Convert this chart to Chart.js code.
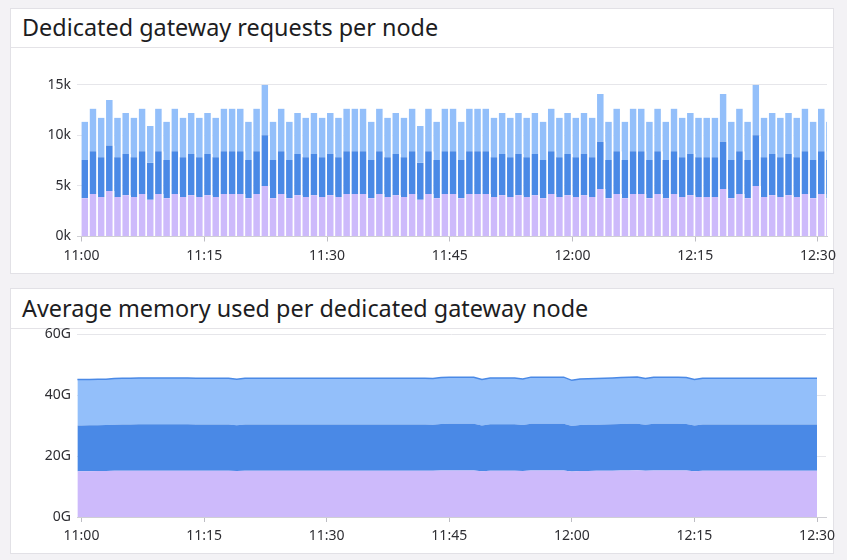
<!DOCTYPE html>
<html>
<head>
<meta charset="utf-8">
<script src="https://cdn.jsdelivr.net/npm/chart.js@4.4.1/dist/chart.umd.min.js"></script>
<style>
  html, body { margin:0; padding:0; }
  body { width:847px; height:560px; overflow:hidden; background:#f3f2f5; position:relative; font-family:'Noto Sans', sans-serif; }
  .panel { position:absolute; left:10px; width:824px; background:#fff; border:1px solid #e2e1e6; box-sizing:border-box; }
  .title { position:absolute; left:11px; font-size:23.4px; line-height:30px; color:#1d1d22; white-space:nowrap; }
  .sep { position:absolute; left:0; right:0; height:1px; background:#e4e3e7; }
  canvas { position:absolute; left:0; }
</style>
</head>
<body>
<div class="panel" style="top:8px;height:266px;">
  <div class="title" style="top:3px;">Dedicated gateway requests per node</div>
  <div class="sep" style="top:38px;"></div>
</div>
<div class="panel" style="top:288px;height:266px;">
  <div class="title" style="top:3.6px;">Average memory used per dedicated gateway node</div>
  <div class="sep" style="top:39px;"></div>
</div>
<canvas id="c1" width="847" height="220" style="top:50px;width:847px;height:220px;"></canvas>
<canvas id="c2" width="847" height="230" style="top:320px;width:847px;height:230px;"></canvas>
<script>
// ---- data ----
const xTickMinutes = [0, 15, 30, 45, 60, 75, 90];
const xTickLabels = ['11:00', '11:15', '11:30', '11:45', '12:00', '12:15', '12:30'];

const reqTicks = [0, 5000, 10000, 15000];
const reqTickLabels = ['0k', '5k', '10k', '15k'];
const memTicks = [0, 20, 40, 60];
const memTickLabels = ['0G', '20G', '40G', '60G'];

// requests per minute, one value per bar (11:00 .. 12:31)
const reqNode1 = [3780,4210,3910,4500,3910,4070,3910,4210,3640,4210,3780,4210,3910,4070,3910,4070,3910,4210,4210,4210,
  3780,4210,5000,3780,4210,3780,4070,3910,4070,3910,4070,3910,4210,4210,4210,3780,4210,3910,4070,3910,
  4210,3640,4210,3780,4210,4210,3780,4210,4210,4210,3910,4070,3910,4070,3910,4070,3780,4210,3910,4070,
  3910,4070,3910,4690,3780,4210,3780,4210,4210,3780,4210,3780,4210,3910,4070,3910,3910,3910,4690,3780,
  4210,3780,5000,3910,4070,3910,4070,3910,4210,3780,4210,3780];
const reqNode2 = [3780,4210,3910,4500,3910,4070,3910,4210,3640,4210,3780,4210,3910,4070,3910,4070,3910,4210,4210,4210,
  3780,4210,5000,3780,4210,3780,4070,3910,4070,3910,4070,3910,4210,4210,4210,3780,4210,3910,4070,3910,
  4210,3640,4210,3780,4210,4210,3780,4210,4210,4210,3910,4070,3910,4070,3910,4070,3780,4210,3910,4070,
  3910,4070,3910,4690,3780,4210,3780,4210,4210,3780,4210,3780,4210,3910,4070,3910,3910,3910,4690,3780,
  4210,3780,5000,3910,4070,3910,4070,3910,4210,3780,4210,3780];
const reqNode3 = [3780,4210,3910,4500,3910,4070,3910,4210,3640,4210,3780,4210,3910,4070,3910,4070,3910,4210,4210,4210,
  3780,4210,5000,3780,4210,3780,4070,3910,4070,3910,4070,3910,4210,4210,4210,3780,4210,3910,4070,3910,
  4210,3640,4210,3780,4210,4210,3780,4210,4210,4210,3910,4070,3910,4070,3910,4070,3780,4210,3910,4070,
  3910,4070,3910,4690,3780,4210,3780,4210,4210,3780,4210,3780,4210,3910,4070,3910,3910,3910,4690,3780,
  4210,3780,5000,3910,4070,3910,4070,3910,4210,3780,4210,3780];

// memory (GB) per node, first sample at 10:59:30 then one per minute 11:00 .. 12:30
const memMinutes = [-0.5].concat(Array.from({length: 91}, (_, i) => i));
const memNode1 = [15.05,
  15.05,15.07,15.08,15.1,15.17,15.2,15.2,15.22,15.22,15.22,15.22,15.22,15.22,15.22,15.2,15.2,15.2,15.2,15.2,15.08,
  15.2,15.2,15.2,15.2,15.2,15.2,15.2,15.2,15.2,15.2,15.2,15.2,15.2,15.2,15.2,15.2,15.2,15.2,15.2,15.2,15.2,15.2,15.2,
  15.17,15.27,15.3,15.3,15.3,15.3,15.05,15.22,15.22,15.22,15.22,15.12,15.32,15.32,15.32,15.32,15.32,
  14.97,15.12,15.15,15.17,15.2,15.23,15.27,15.3,15.33,15.17,15.3,15.3,15.3,15.3,15.28,15.05,
  15.2,15.2,15.2,15.2,15.2,15.2,15.2,15.2,15.2,15.2,15.2,15.2,15.2,15.2,15.2];
const memNode2 = [15.05,
  15.05,15.07,15.08,15.1,15.17,15.2,15.2,15.22,15.22,15.22,15.22,15.22,15.22,15.22,15.2,15.2,15.2,15.2,15.2,15.08,
  15.2,15.2,15.2,15.2,15.2,15.2,15.2,15.2,15.2,15.2,15.2,15.2,15.2,15.2,15.2,15.2,15.2,15.2,15.2,15.2,15.2,15.2,15.2,
  15.17,15.27,15.3,15.3,15.3,15.3,15.05,15.22,15.22,15.22,15.22,15.12,15.32,15.32,15.32,15.32,15.32,
  14.97,15.12,15.15,15.17,15.2,15.23,15.27,15.3,15.33,15.17,15.3,15.3,15.3,15.3,15.28,15.05,
  15.2,15.2,15.2,15.2,15.2,15.2,15.2,15.2,15.2,15.2,15.2,15.2,15.2,15.2,15.2];
const memNode3 = [15.05,
  15.05,15.07,15.08,15.1,15.17,15.2,15.2,15.22,15.22,15.22,15.22,15.22,15.22,15.22,15.2,15.2,15.2,15.2,15.2,15.08,
  15.2,15.2,15.2,15.2,15.2,15.2,15.2,15.2,15.2,15.2,15.2,15.2,15.2,15.2,15.2,15.2,15.2,15.2,15.2,15.2,15.2,15.2,15.2,
  15.17,15.27,15.3,15.3,15.3,15.3,15.05,15.22,15.22,15.22,15.22,15.12,15.32,15.32,15.32,15.32,15.32,
  14.97,15.12,15.15,15.17,15.2,15.23,15.27,15.3,15.33,15.17,15.3,15.3,15.3,15.3,15.28,15.05,
  15.2,15.2,15.2,15.2,15.2,15.2,15.2,15.2,15.2,15.2,15.2,15.2,15.2,15.2,15.2];

// ---- styling ----
const PURPLE = '#cdbafb';
const DARK = '#4a89e6';
const LIGHT = '#93bffa';
const GRID = '#e6e6ea';
const AXIS = '#cfcfd4';

Chart.defaults.font.family = "'Noto Sans', sans-serif";
Chart.defaults.font.size = 14;
Chart.defaults.color = '#2e2e33';
Chart.defaults.animation = false;

const xMin = -0.55, xMax = 91.1;

function xScale() {
  return {
    type: 'linear', min: xMin, max: xMax, offset: false, stacked: true,
    afterBuildTicks: s => { s.ticks = xTickMinutes.map(v => ({ value: v })); },
    afterFit: s => { s.height = 33.5; },
    ticks: { padding: 6, maxRotation: 0, autoSkip: false,
      callback: v => xTickLabels[xTickMinutes.indexOf(v)] },
    grid: { drawOnChartArea: false, drawTicks: true, tickLength: 5, color: '#bdbdc3', offset: false },
    border: { display: true, color: AXIS }
  };
}
function yScale(ticks, labels, max) {
  return {
    min: 0, max: max, stacked: true,
    afterBuildTicks: s => { s.ticks = ticks.map(v => ({ value: v })); },
    afterFit: s => { s.width = 77; },
    ticks: { padding: 6, callback: v => labels[ticks.indexOf(v)] },
    grid: { color: GRID, drawTicks: false },
    border: { display: false }
  };
}

const barMinutes = reqNode1.map((_, i) => i);
function barData(arr) { return arr.map((v, i) => ({ x: barMinutes[i] + 0.5, y: v })); }
const barStyle = { borderColor: '#ffffff', borderWidth: { left: 0, right: 2, top: 0, bottom: 0 },
  borderSkipped: false, barPercentage: 1, categoryPercentage: 1 };

new Chart(document.getElementById('c1'), {
  type: 'bar',
  data: { datasets: [
    Object.assign({ label: 'node 1', data: barData(reqNode1), backgroundColor: PURPLE }, barStyle),
    Object.assign({ label: 'node 2', data: barData(reqNode2), backgroundColor: DARK }, barStyle),
    Object.assign({ label: 'node 3', data: barData(reqNode3), backgroundColor: LIGHT }, barStyle)
  ]},
  options: {
    responsive: false, maintainAspectRatio: false,
    layout: { padding: { left: 0, right: 20, top: 34.7, bottom: 0 } },
    plugins: { legend: { display: false }, tooltip: { enabled: false } },
    scales: { x: xScale(), y: yScale(reqTicks, reqTickLabels, 15000) }
  }
});

function memData(arr) { return arr.map((v, i) => ({ x: memMinutes[i], y: v })); }
const x2 = xScale(); x2.afterFit = s => { s.height = 33; };
new Chart(document.getElementById('c2'), {
  type: 'line',
  data: { datasets: [
    { label: 'node 1', data: memData(memNode1), backgroundColor: PURPLE, borderColor: 'rgba(0,0,0,0)', borderWidth: 0, fill: 'origin', pointRadius: 0, tension: 0 },
    { label: 'node 2', data: memData(memNode2), backgroundColor: DARK, borderColor: 'rgba(0,0,0,0)', borderWidth: 0, fill: '-1', pointRadius: 0, tension: 0 },
    { label: 'node 3', data: memData(memNode3), backgroundColor: LIGHT, borderColor: DARK, borderWidth: 1.5, fill: '-1', pointRadius: 0, tension: 0 }
  ]},
  options: {
    responsive: false, maintainAspectRatio: false,
    layout: { padding: { left: 0, right: 21, top: 14, bottom: 0 } },
    plugins: { legend: { display: false }, tooltip: { enabled: false } },
    scales: { x: x2, y: yScale(memTicks, memTickLabels, 60) }
  }
});
</script>
</body>
</html>
